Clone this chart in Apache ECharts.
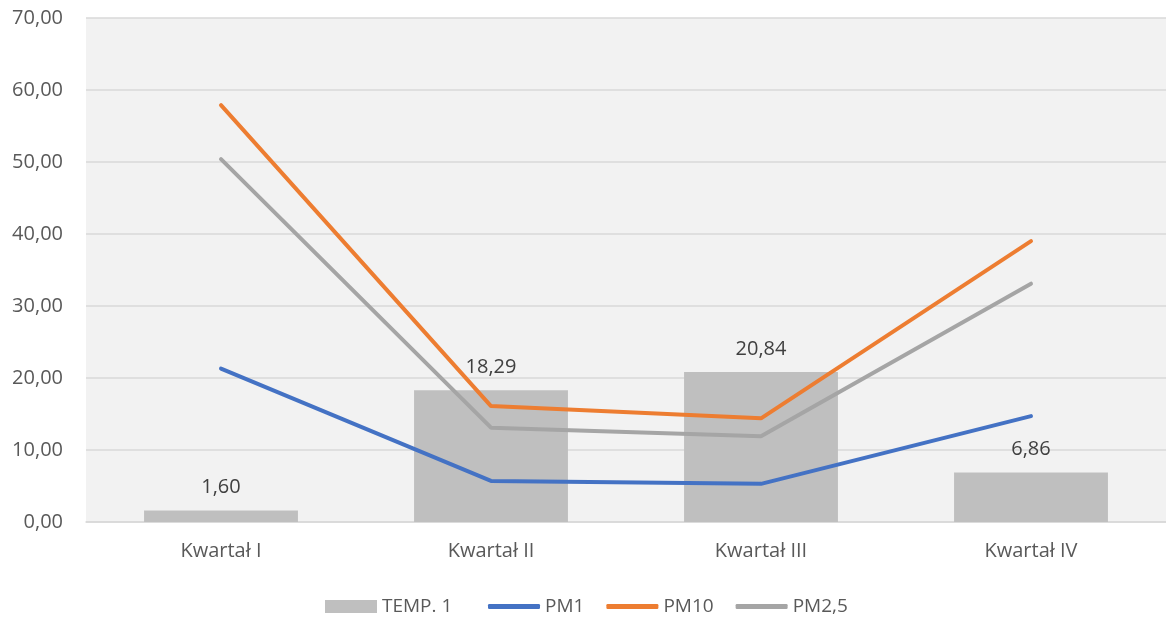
<!DOCTYPE html>
<html><head><meta charset="utf-8">
<script src="https://cdn.jsdelivr.net/npm/echarts@6/dist/echarts.min.js"></script>
<style>html,body{margin:0;padding:0;background:#fff}#c{width:1166px;height:618px}</style>
</head><body><div id="c"></div>
<script>
var categories = ['Kwartał I', 'Kwartał II', 'Kwartał III', 'Kwartał IV'];
var temp1 = [1.60, 18.29, 20.84, 6.86];
var pm1 = [21.3, 5.7, 5.3, 14.7];
var pm10 = [57.9, 16.1, 14.4, 39.0];
var pm25 = [50.4, 13.1, 11.9, 33.1];

function fmt(v){ return Number(v).toFixed(2).replace('.', ','); }
var font = 'Open Sans';
var txt = '#595959';
var fs = 20;
var chart = echarts.init(document.getElementById('c'));
chart.setOption({
  animation: false,
  textStyle: {fontFamily: font},
  grid: {left: 86, right: -4, top: 18, bottom: 96, show: true, backgroundColor: '#f2f2f2', borderWidth: 0},
  legend: [{
    top: 592, left: 320, itemGap: 24, itemWidth: 52, itemHeight: 13,
    textStyle: {color: txt, fontSize: 19, fontFamily: font},
    data: [{name: 'TEMP. 1', icon: 'rect'}]
  }, {
    top: 592, left: 483, itemGap: 22, itemWidth: 52, itemHeight: 5,
    textStyle: {color: txt, fontSize: 19, fontFamily: font},
    icon: 'roundRect',
    data: ['PM1', 'PM10', 'PM2,5']
  }],
  xAxis: {
    type: 'category', data: categories,
    axisLine: {lineStyle: {color: '#d9d9d9', width: 1.5}},
    axisTick: {show: false},
    axisLabel: {color: txt, fontSize: fs, margin: 19}
  },
  yAxis: {
    type: 'value', min: 0, max: 70, interval: 10,
    axisLine: {show: false}, axisTick: {show: false},
    splitLine: {lineStyle: {color: '#d9d9d9', width: 1.5}},
    axisLabel: {color: txt, fontSize: fs, margin: 23, formatter: fmt}
  },
  series: [
    {name: 'TEMP. 1', type: 'bar', data: temp1, barWidth: '57%',
     itemStyle: {color: '#bfbfbf'},
     label: {show: true, position: 'top', distance: 13, color: '#404040', fontSize: fs, formatter: function(p){return fmt(p.value);}}},
    {name: 'PM1', type: 'line', data: pm1, symbol: 'none', z: 3,
     lineStyle: {color: '#4472c4', width: 4, cap: 'round'}, itemStyle: {color: '#4472c4'}},
    {name: 'PM10', type: 'line', data: pm10, symbol: 'none', z: 3,
     lineStyle: {color: '#ed7d31', width: 4, cap: 'round'}, itemStyle: {color: '#ed7d31'}},
    {name: 'PM2,5', type: 'line', data: pm25, symbol: 'none', z: 3,
     lineStyle: {color: '#a5a5a5', width: 4, cap: 'round'}, itemStyle: {color: '#a5a5a5'}}
  ]
});
</script></body></html>
